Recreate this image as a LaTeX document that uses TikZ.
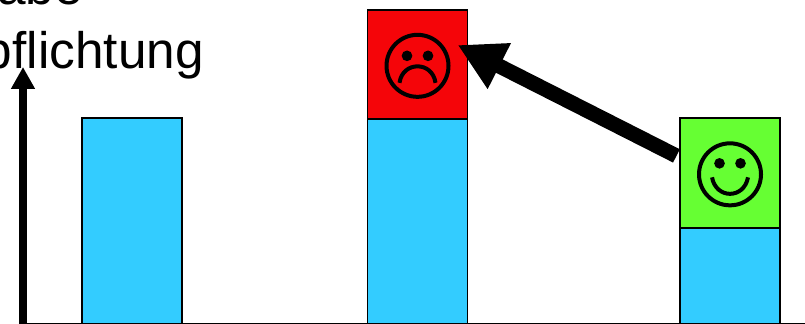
\documentclass[tikz,border=0pt]{standalone}
\usepackage{xcolor}
\usepackage{fontspec}
\setmainfont[Ligatures=NoCommon]{Liberation Sans}
\definecolor{barblue}{HTML}{33CCFF}
\definecolor{barred}{HTML}{F50509}
\definecolor{bargreen}{HTML}{66FF33}
\usetikzlibrary{positioning,arrows.meta}

\tikzset{
  facering/.style={draw=black,circle,line width=3pt,minimum size=46.5pt,inner sep=0pt},
  faceeye/.style={fill=black,circle,minimum size=8pt,inner sep=0pt},
  frown/.pic={
    \node[facering] (-ring) at (0,0) {};
    \node[faceeye] (-eyel) at (-10.5,-10) {};
    \node[faceeye] (-eyer) at (10.5,-10) {};
    \draw[line width=3pt] (-18,17) .. controls (-15,-5) and (15,-5) .. (18,17);
  },
  smile/.pic={
    \node[facering] (-ring) at (0,0) {};
    \node[faceeye] (-eyel) at (-10.5,-11) {};
    \node[faceeye] (-eyer) at (10.5,-11) {};
    \draw[line width=3pt] (-18,3) .. controls (-14,25) and (14,25) .. (18,3);
  }
}

\begin{document}
\begin{tikzpicture}[
  x=0.75pt,y=-0.75pt,
  barbox/.style={draw=black,line width=1.1pt,minimum width=75pt,outer sep=0pt,inner sep=0pt},
  axistext/.style={font=\fontsize{38.5pt}{46pt}\selectfont,inner sep=0pt},
  axisarr/.style={-{Triangle[length=16.5pt,width=17pt]},line width=6pt},
  bigarr/.style={-{Triangle[length=35pt,width=36pt]},line width=11.2pt}]
\useasboundingbox (0,0) rectangle (805,324);
\clip (0,0) rectangle (805,324);
\coordinate (origin) at (23,324);
\coordinate (axistop) at (23,67);
\coordinate (axisend) at (805,324);
\node[axistext,anchor=base east] (unit) at (204,69) {pflichtung};
\node[axistext,anchor=base east] (task) at (83,5) {abe};
\node[barbox,fill=barblue,minimum height=154.5pt,anchor=south] (bara) at (132,324) {};
\node[barbox,fill=barblue,minimum height=153.75pt,anchor=south] (barb) at (417.5,324) {};
\node[barbox,fill=barblue,minimum height=72pt,anchor=south] (barc) at (730,324) {};
\node[barbox,fill=barred,minimum height=81.75pt,above=0pt of barb] (extrab) {};
\node[barbox,fill=bargreen,minimum height=82.5pt,above=0pt of barc] (extrac) {};
\pic (sad) at ([yshift=-1pt]extrab.center) {frown};
\pic (happy) at ([yshift=-1pt]extrac.center) {smile};
\coordinate (hit) at (457.7,45);
\draw[line width=1.2pt] (origin) -- (axisend);
\draw[axisarr] (origin) -- (axistop);
\draw[bigarr,shorten <=3pt] (extrac.163) -- (hit);
\end{tikzpicture}
\end{document}
